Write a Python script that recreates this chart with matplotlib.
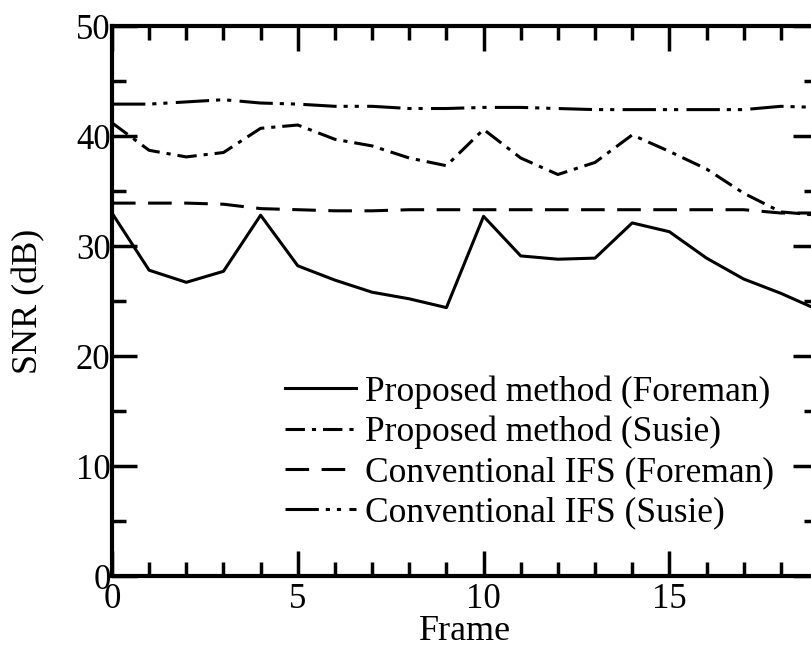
import matplotlib
matplotlib.use("Agg")
import matplotlib.pyplot as plt
from matplotlib.ticker import MultipleLocator

plt.rcParams['font.family'] = ['Liberation Serif', 'DejaVu Serif']
plt.rcParams['lines.scale_dashes'] = False

frames = list(range(20))
prop_foreman = [33.0, 27.8, 26.7, 27.7, 32.8, 28.2, 26.9, 25.8, 25.2, 24.4, 32.7, 29.1, 28.8, 28.9,
                32.1, 31.3, 28.9, 27.0, 25.7, 24.2]
prop_susie = [41.2, 38.7, 38.1, 38.5, 40.7, 41.0, 39.7, 39.1, 38.0, 37.3, 40.6, 38.0, 36.5, 37.6,
              40.1, 38.6, 37.0, 34.8, 33.1, 32.8]
conv_foreman = [33.9, 33.9, 33.9, 33.8, 33.4, 33.3, 33.2, 33.2, 33.3, 33.3, 33.3, 33.3, 33.3, 33.3,
                33.3, 33.3, 33.3, 33.3, 33.0, 33.0]
conv_susie = [42.9, 42.9, 43.1, 43.3, 43.0, 42.9, 42.7, 42.7, 42.5, 42.5, 42.6, 42.6, 42.5, 42.4,
              42.4, 42.4, 42.4, 42.4, 42.7, 42.6]
labels = ["Proposed method (Foreman)", "Proposed method (Susie)",
          "Conventional IFS (Foreman)", "Conventional IFS (Susie)"]

fig = plt.figure(figsize=(8.12, 6.47), dpi=100)
ax = fig.add_axes([0.1379, 0.1097, 0.8695, 0.8501])

lw = 2.2
ax.plot(frames, prop_foreman, color='black', lw=lw, linestyle='-', label=labels[0])
ax.plot(frames, prop_susie, color='black', lw=lw, linestyle=(0, (14, 5, 3, 5)), label=labels[1])
ax.plot(frames, conv_foreman, color='black', lw=lw, linestyle=(0, (17, 9)), label=labels[2])
ax.plot(frames, conv_susie, color='black', lw=lw, linestyle=(0, (24, 5, 3, 5, 3, 6)), label=labels[3])

ax.set_xlim(0, 19)
ax.set_ylim(0, 50)
ax.xaxis.set_major_locator(MultipleLocator(5))
ax.xaxis.set_minor_locator(MultipleLocator(1))
ax.yaxis.set_major_locator(MultipleLocator(10))
ax.yaxis.set_minor_locator(MultipleLocator(5))
ax.tick_params(which='both', direction='in', top=True, right=True, width=2.5, labelsize=25,
               color='black')
ax.tick_params(which='major', length=18)
ax.tick_params(which='minor', length=10)
ax.tick_params(axis='y', pad=1)
ax.tick_params(axis='x', pad=5)
for s in ax.spines.values():
    s.set_linewidth(3)

ax.set_xlabel("Frame", fontsize=26, labelpad=-1)
ax.set_ylabel("SNR (dB)", fontsize=26, labelpad=22)

leg = ax.legend(loc='upper left', bbox_to_anchor=(0.245, 0.365), frameon=False, fontsize=25.5,
                handlelength=2.0, handletextpad=0.25, labelspacing=0.2, borderpad=0,
                borderaxespad=0)

fig.savefig("out.png", dpi=100, facecolor='white')
